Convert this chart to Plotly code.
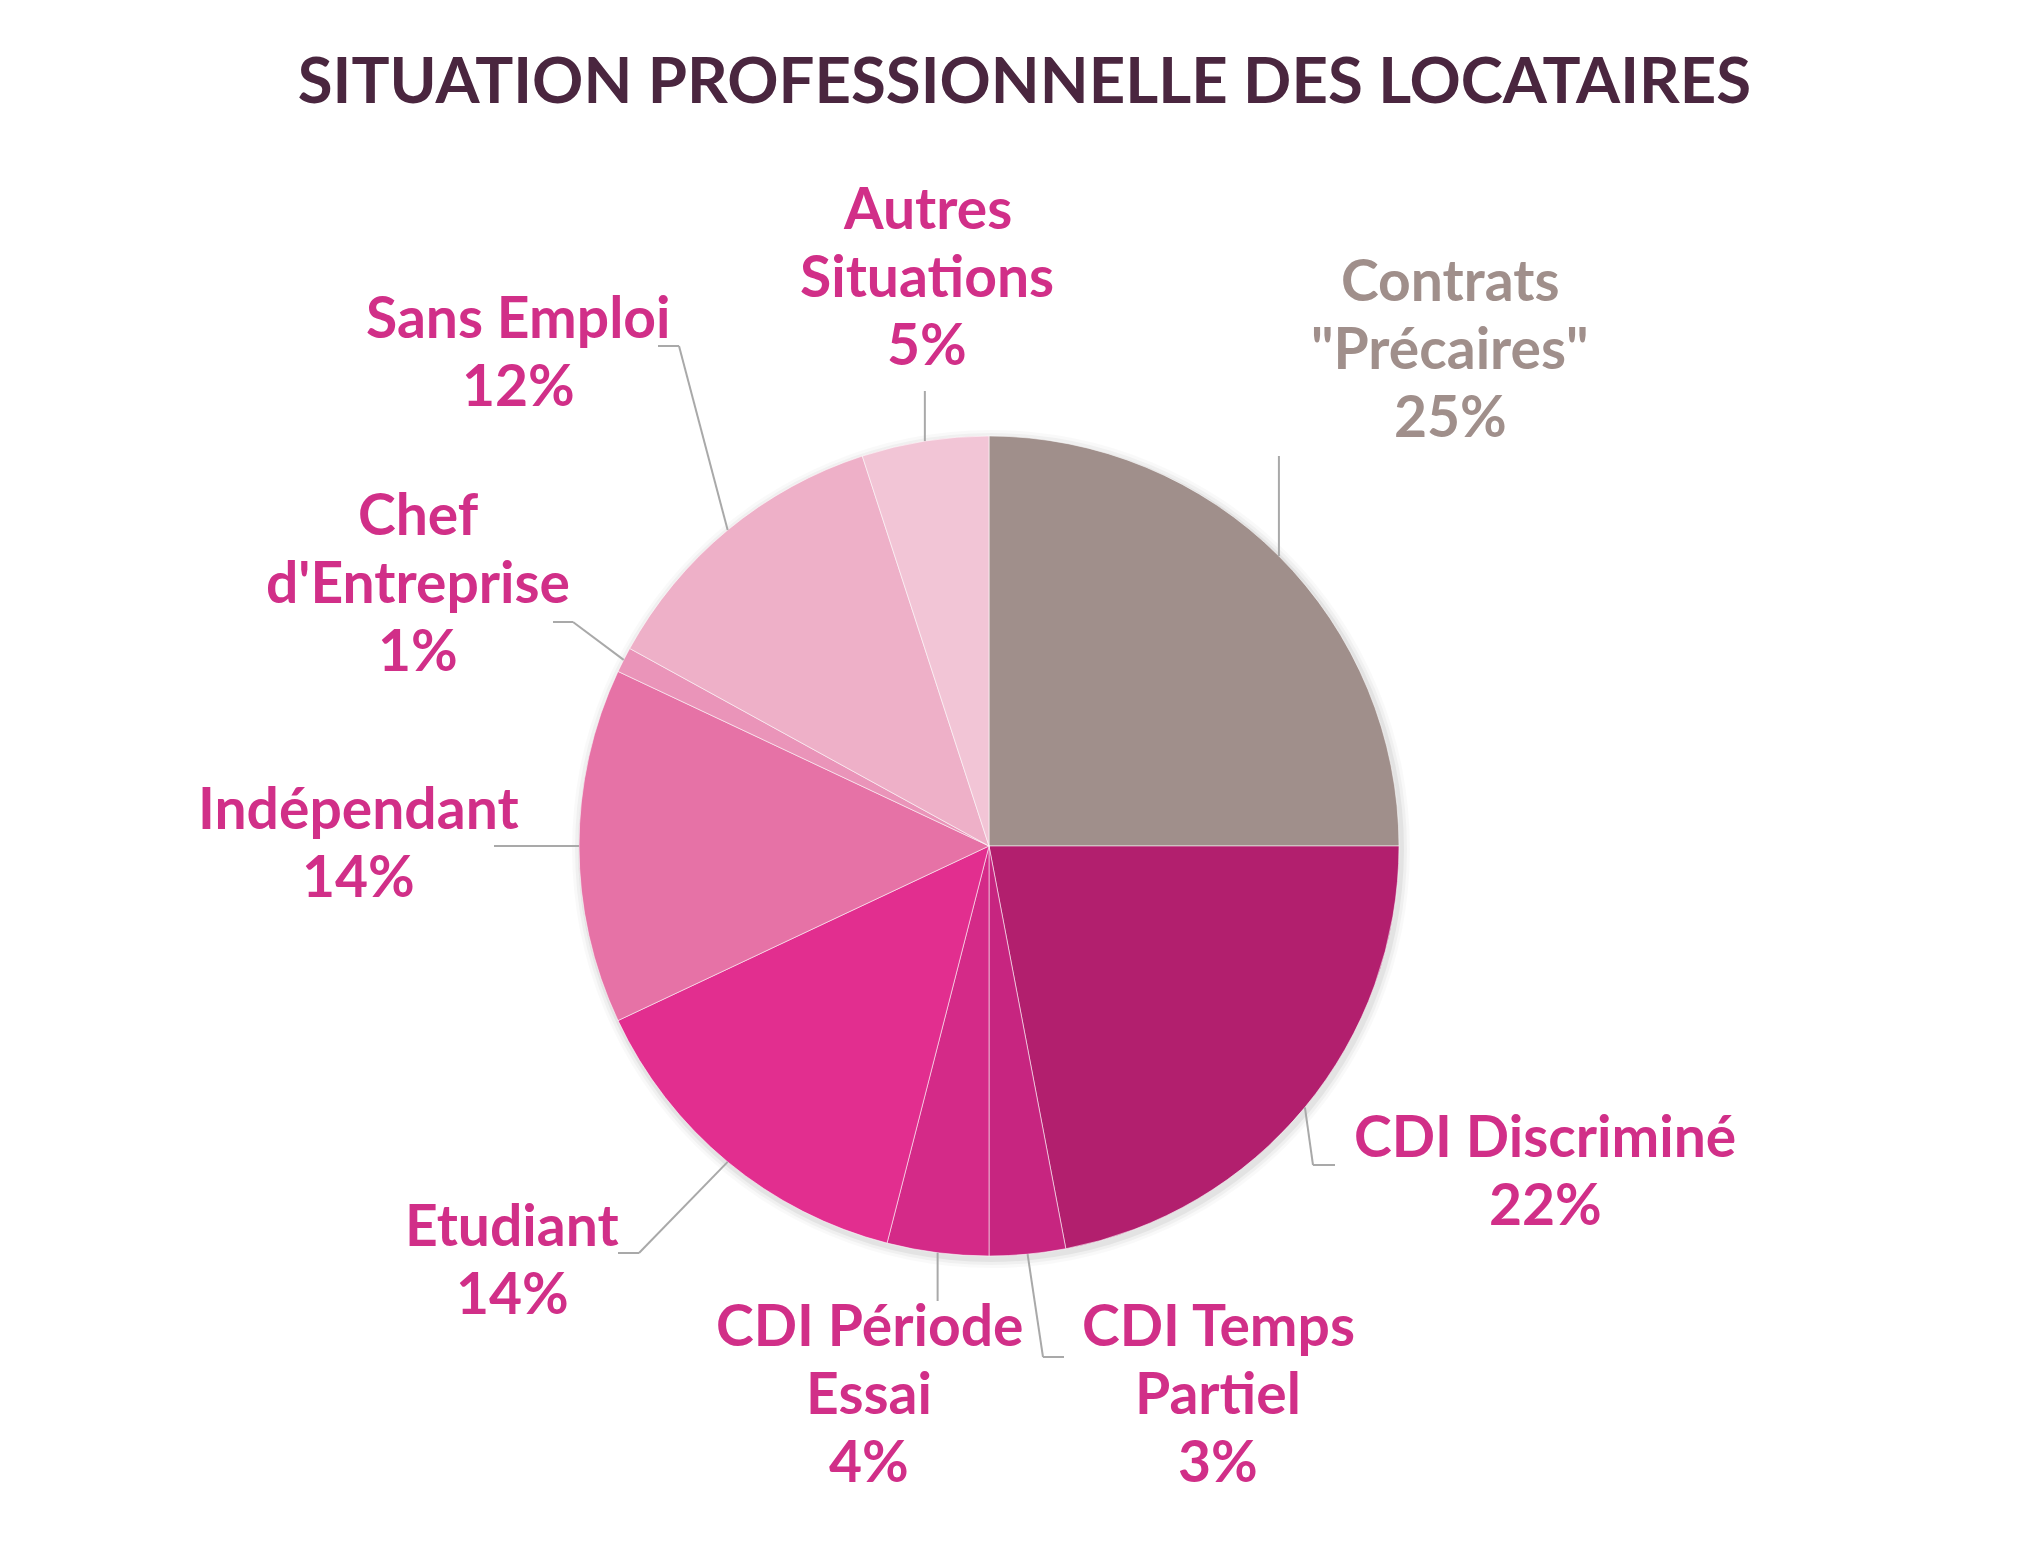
import math
import plotly.graph_objects as go

# data (share of tenants, %)
categories = ['Contrats "Précaires"', 'CDI Discriminé', 'CDI Temps Partiel',
              'CDI Période Essai', 'Etudiant', 'Indépendant',
              "Chef d'Entreprise", 'Sans Emploi', 'Autres Situations']
shares = [25, 22, 3, 4, 14, 14, 1, 12, 5]
label_lines = [['Contrats', '"Précaires"'], ['CDI Discriminé'], ['CDI Temps', 'Partiel'],
               ['CDI Période', 'Essai'], ['Etudiant'], ['Indépendant'],
               ['Chef', "d'Entreprise"], ['Sans Emploi'], ['Autres', 'Situations']]

slice_colors = ['#a08f8b', '#b21f6e', '#c72580', '#d42a88', '#e22e8f',
                '#e672a6', '#ea94b9', '#eeb0c8', '#f2c5d6']
text_colors = ['#a08f8b'] + ['#d12f88'] * 8

W, H = 2033, 1560
CX, CY, R = 981, 838, 410          # pie centre / radius in pixels
FS = 57                            # label font size
TITLE_FS = 63.5
LINE_STEP = 68
FONT = 'Lato'

# label placement: centre x, first baseline y (pixels)
label_pos = [(1442, 293), (1537, 1149), (1210, 1338), (861, 1338), (504, 1238),
             (350, 821), (410, 527), (510, 330), (919, 221)]
# leader line points after the slice edge (None = keep the previous coordinate)
leader_pts = [[(None, 448)], [(1305, 1157), (1327, 1157)], [(1035, 1349), (1056, 1349)],
              [(None, 1293)], [(631, 1245), (610, 1245)], [(486, None)],
              [(565, 614), (545, 614)], [(671, 338), (650, 338)], [(None, 383)]]


def px(x):
    return x / W


def py(y):
    return 1 - y / H


fig = go.Figure()
fig.add_trace(go.Pie(
    labels=categories, values=shares, sort=False, direction='clockwise', rotation=0,
    marker=dict(colors=slice_colors, line=dict(color='rgba(255,255,255,0.55)', width=1)),
    textinfo='none', hoverinfo='label+percent', showlegend=False,
    domain=dict(x=[px(CX - R), px(CX + R)], y=[py(CY + R), py(CY - R)]),
))

shapes = []
# soft drop shadow under the pie
for grow, alpha in [(9, 0.025), (6, 0.035), (3, 0.05)]:
    shapes.append(dict(type='circle', xref='paper', yref='paper', layer='below',
                       x0=px(CX + 2 - R - grow), x1=px(CX + 2 + R + grow),
                       y0=py(CY + 3 + R + grow), y1=py(CY + 3 - R - grow),
                       fillcolor='rgba(0,0,0,%s)' % alpha, line=dict(width=0)))

annotations = []
total = sum(shares)
cum = 0
for i, v in enumerate(shares):
    mid = (cum + v / 2) / total * 2 * math.pi
    cum += v
    x0 = CX + R * math.sin(mid)
    y0 = CY - R * math.cos(mid)
    prev = (x0, y0)
    for (lx, ly) in leader_pts[i]:
        nx = prev[0] if lx is None else lx
        ny = prev[1] if ly is None else ly
        shapes.append(dict(type='line', xref='paper', yref='paper',
                           x0=px(prev[0]), y0=py(prev[1]), x1=px(nx), y1=py(ny),
                           line=dict(color='#a9a9a9', width=2)))
        prev = (nx, ny)

    lines = label_lines[i] + ['%d%%' % v]
    cx, base = label_pos[i]
    for k, t in enumerate(lines):
        yb = base + k * LINE_STEP
        annotations.append(dict(
            text=t, x=px(cx), y=py(yb - 0.387 * FS), xref='paper', yref='paper',
            xanchor='center', yanchor='middle', showarrow=False,
            font=dict(family=FONT, size=FS, color=text_colors[i], weight='bold')))

fig.update_layout(
    width=W, height=H,
    margin=dict(l=0, r=0, t=0, b=0),
    paper_bgcolor='white', plot_bgcolor='white',
    title=dict(text='SITUATION PROFESSIONNELLE DES LOCATAIRES',
               x=0.5, xanchor='center', y=py(97 - 0.387 * TITLE_FS), yanchor='middle',
               font=dict(family=FONT, size=TITLE_FS, color='#4a263f', weight='bold')),
    shapes=shapes, annotations=annotations,
)

fig.write_html("out.html")
